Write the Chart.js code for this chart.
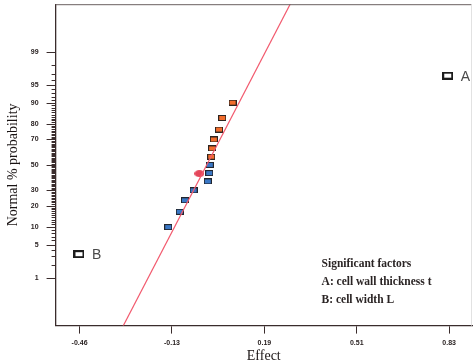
<!DOCTYPE html>
<html>
<head>
<meta charset="utf-8">
<script src="https://cdn.jsdelivr.net/npm/chart.js@4.4.1/dist/chart.umd.min.js"></script>
<style>
  html, body { margin: 0; padding: 0; background: #fff; }
  #wrap { width: 474px; height: 362px; }
</style>
</head>
<body>
<div id="wrap"><canvas id="chart"></canvas></div>
<script>
"use strict";
// normal probability plot of effects: x = effect, y = normal % probability

const NEG_EFFECTS = [-0.148, -0.108, -0.090, -0.060, -0.011, -0.006, -0.004];
const NEG_PROBS   = [10, 16.7, 23.3, 30, 36.7, 43.3, 50];
const POS_EFFECTS = [0.001, 0.004, 0.010, 0.028, 0.039, 0.075];
const POS_PROBS   = [56.7, 63.3, 70, 76.7, 83.3, 90];
const SIG_NAMES   = ["A", "B"];
const SIG_EFFECTS = [0.820, -0.457];
const SIG_PROBS   = [96.7, 3.3];
const MARK_EFFECTS = [-0.040];
const MARK_PROBS   = [42.9];
const LINE_EFFECTS = [-0.339, 0.310];
const LINE_PROBS   = [0.01, 99.99];

const X_TICKS       = [-0.455, -0.135, 0.185, 0.505, 0.825];
const X_TICK_LABELS = ["-0.46", "-0.13", "0.19", "0.51", "0.83"];
const Y_MAJOR       = [1, 5, 10, 20, 30, 50, 70, 80, 90, 95, 99];
const LEGEND_LINES  = ["Significant factors", "A: cell wall thickness t", "B: cell width L"];

const AXIS_COLOR = "#3a2c2c";

// inverse normal cdf (Acklam), used as the probability scale transform
function probit(p) {
  const a = [-3.969683028665376e+01, 2.209460984245205e+02, -2.759285104469687e+02,
             1.383577518672690e+02, -3.066479806614716e+01, 2.506628277459239e+00];
  const b = [-5.447609879822406e+01, 1.615858368580409e+02, -1.556989798598866e+02,
             6.680131188771972e+01, -1.328068155288572e+01];
  const c = [-7.784894002430293e-03, -3.223964580411365e-01, -2.400758277161838e+00,
             -2.549732539343734e+00, 4.374664141464968e+00, 2.938163982698783e+00];
  const d = [7.784695709041462e-03, 3.224671290700398e-01, 2.445134137142996e+00,
             3.754408661907416e+00];
  const tail = q => (((((c[0]*q+c[1])*q+c[2])*q+c[3])*q+c[4])*q+c[5]) /
                    ((((d[0]*q+d[1])*q+d[2])*q+d[3])*q+1);
  if (p < 0.02425) return tail(Math.sqrt(-2 * Math.log(p)));
  if (p > 1 - 0.02425) return -tail(Math.sqrt(-2 * Math.log(1 - p)));
  const q = p - 0.5, r = q * q;
  return (((((a[0]*r+a[1])*r+a[2])*r+a[3])*r+a[4])*r+a[5]) * q /
         (((((b[0]*r+b[1])*r+b[2])*r+b[3])*r+b[4])*r+1);
}
const z = pct => probit(pct / 100);
const pts = (xs, ps) => xs.map((x, i) => ({ x, y: z(ps[i]) }));

function boxMarker(w, h, fill, stroke, lw) {
  const cv = document.createElement("canvas");
  cv.width = w; cv.height = h;
  const g = cv.getContext("2d");
  g.fillStyle = stroke; g.fillRect(0, 0, w, h);
  g.fillStyle = fill; g.fillRect(lw, lw, w - 2 * lw, h - 2 * lw);
  return cv;
}
function ellipseMarker(w, h, fill) {
  const cv = document.createElement("canvas");
  cv.width = w; cv.height = h;
  const g = cv.getContext("2d");
  g.fillStyle = fill;
  g.beginPath();
  g.ellipse(w / 2, h / 2, w / 2, h / 2, 0, 0, Math.PI * 2);
  g.fill();
  return cv;
}

const probTicks = [];
for (let p = 1; p <= 99; p++) probTicks.push(p);

const framePlugin = {
  id: "frame",
  afterDraw(chart) {
    const { ctx, chartArea: ca, scales } = chart;
    ctx.save();
    // top + right frame
    ctx.lineWidth = 1;
    ctx.strokeStyle = "#6a6060";
    ctx.beginPath(); ctx.moveTo(ca.left, ca.top + 0.5); ctx.lineTo(ca.right, ca.top + 0.5); ctx.stroke();
    ctx.strokeStyle = "#e2e2e2";
    ctx.beginPath(); ctx.moveTo(ca.right - 0.5, ca.top); ctx.lineTo(ca.right - 0.5, ca.bottom); ctx.stroke();
    // probability axis ticks: long at labelled values, short at every other percent
    ctx.strokeStyle = AXIS_COLOR;
    probTicks.forEach(p => {
      const len = Y_MAJOR.includes(p) ? 9 : 4;
      const y = Math.round(scales.y.getPixelForValue(z(p))) + 0.5;
      ctx.beginPath(); ctx.moveTo(ca.left - len, y); ctx.lineTo(ca.left, y); ctx.stroke();
    });
    // A / B labels beside their markers
    ctx.font = "14px 'Liberation Sans', Arial, sans-serif";
    ctx.fillStyle = "#4a4a4a";
    ctx.textBaseline = "middle";
    SIG_NAMES.forEach((name, i) => {
      const px = scales.x.getPixelForValue(SIG_EFFECTS[i]);
      const py = scales.y.getPixelForValue(z(SIG_PROBS[i]));
      ctx.fillText(name, px + 13, py + 1);
    });
    // significant factors note
    ctx.font = "bold 11.5px 'Liberation Serif', 'Times New Roman', serif";
    ctx.fillStyle = "#2a2424";
    LEGEND_LINES.forEach((t, i) => ctx.fillText(t, ca.left + 266, ca.top + 260 + i * 18));
    ctx.restore();
  },
};

new Chart(document.getElementById("chart"), {
  type: "scatter",
  data: {
    datasets: [
      {
        type: "line",
        data: pts(LINE_EFFECTS, LINE_PROBS),
        borderColor: "#f25a6e",
        borderWidth: 1.2,
        pointRadius: 0,
        fill: false,
      },
      {
        data: pts(NEG_EFFECTS, NEG_PROBS),
        pointStyle: boxMarker(8, 6, "#3a78c6", "#22262e", 1),
      },
      {
        data: pts(POS_EFFECTS, POS_PROBS),
        pointStyle: boxMarker(8, 6, "#f26d2c", "#2e2420", 1),
      },
      {
        data: pts(MARK_EFFECTS, MARK_PROBS),
        pointStyle: ellipseMarker(10, 7, "#e4465a"),
      },
      {
        data: pts(SIG_EFFECTS, SIG_PROBS),
        pointStyle: boxMarker(11, 8, "#ffffff", "#1c1c1c", 2),
      },
    ],
  },
  options: {
    responsive: true,
    maintainAspectRatio: false,
    animation: false,
    layout: { autoPadding: false, padding: { top: 3, right: 2, left: 3, bottom: -1 } },
    plugins: { legend: { display: false }, tooltip: { enabled: false } },
    scales: {
      x: {
        type: "linear",
        min: -0.538,
        max: 0.904,
        afterBuildTicks: s => { s.ticks = X_TICKS.map(v => ({ value: v })); },
        ticks: {
          autoSkip: false,
          maxRotation: 0,
          padding: 5,
          color: "#2a2222",
          font: { family: "'Liberation Sans', Arial, sans-serif", size: 7, weight: "bold" },
          callback: (v, i) => X_TICK_LABELS[i],
        },
        grid: { drawOnChartArea: false, tickLength: 8, color: AXIS_COLOR },
        border: { color: AXIS_COLOR, width: 1.3 },
        title: {
          display: true,
          text: "Effect",
          color: "#1a1414",
          font: { family: "'Liberation Serif', 'Times New Roman', serif", size: 14, lineHeight: 1 },
          padding: { top: -3, bottom: 0 },
        },
      },
      y: {
        type: "linear",
        min: -3.31,
        max: 3.31,
        afterBuildTicks: s => { s.ticks = Y_MAJOR.map(p => ({ value: z(p) })); },
        ticks: {
          autoSkip: false,
          padding: 0,
          color: "#2a2222",
          font: { family: "'Liberation Sans', Arial, sans-serif", size: 7, weight: "bold" },
          callback: (v, i) => String(Y_MAJOR[i]),
        },
        grid: { drawOnChartArea: false, tickLength: 17, tickColor: "rgba(0,0,0,0)" },
        border: { color: AXIS_COLOR, width: 1.3 },
        title: {
          display: true,
          text: "Normal % probability",
          color: "#1a1414",
          font: { family: "'Liberation Serif', 'Times New Roman', serif", size: 14 },
          padding: { top: 2, bottom: 9 },
        },
      },
    },
  },
  plugins: [framePlugin],
});
</script>
</body>
</html>
